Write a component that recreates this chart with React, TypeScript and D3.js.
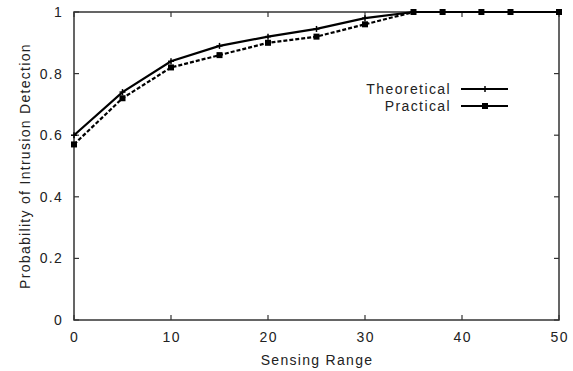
import React from "react";
import * as d3 from "d3";

const sensingRange = [0, 5, 10, 15, 20, 25, 30, 35, 38, 42, 45, 50];
const theoretical = [0.6, 0.74, 0.84, 0.89, 0.92, 0.945, 0.98, 1, 1, 1, 1, 1];
const practical = [0.57, 0.72, 0.82, 0.86, 0.9, 0.92, 0.96, 1, 1, 1, 1, 1];
const xTicks = [0, 10, 20, 30, 40, 50];
const yTicks = [0, 0.2, 0.4, 0.6, 0.8, 1];
const seriesNames = ["Theoretical", "Practical"];

const W = 573, H = 371;
const left = 74, right = 559, top = 12, bottom = 320;
const font = "'Liberation Sans', Arial, Helvetica, sans-serif";

export default function App() {
  const x = d3.scaleLinear().domain([0, 50]).range([left, right]);
  const y = d3.scaleLinear().domain([0, 1]).range([bottom, top]);
  const line = d3.line<number>().x((_, i) => x(sensingRange[i])).y((d) => y(d));
  const axisColor = "#333";
  const textStyle = { fontFamily: font, fontSize: 14, letterSpacing: 1.3, fill: "#222" } as any;

  return (
    <svg width={W} height={H} style={{ position: "absolute", left: 0, top: 0, background: "#fff" }}>
      {/* frame */}
      <rect x={left} y={top} width={right - left} height={bottom - top} fill="none" stroke={axisColor} strokeWidth={1.5} />
      {/* x ticks */}
      {xTicks.map((t) => (
        <g key={"x" + t}>
          <line x1={x(t)} x2={x(t)} y1={bottom} y2={bottom - 5} stroke={axisColor} strokeWidth={1.2} />
          <line x1={x(t)} x2={x(t)} y1={top} y2={top + 5} stroke={axisColor} strokeWidth={1.2} />
          <text x={x(t) + 0.65} y={342} textAnchor="middle" style={textStyle}>{t}</text>
        </g>
      ))}
      {/* y ticks */}
      {yTicks.map((t) => (
        <g key={"y" + t}>
          <line x1={left} x2={left + 5} y1={y(t)} y2={y(t)} stroke={axisColor} strokeWidth={1.2} />
          <line x1={right} x2={right - 5} y1={y(t)} y2={y(t)} stroke={axisColor} strokeWidth={1.2} />
          <text x={63} y={y(t) + 5} textAnchor="end" style={textStyle}>{t === 0 || t === 1 ? String(t) : t.toFixed(1)}</text>
        </g>
      ))}
      {/* axis labels */}
      <text x={317} y={365} textAnchor="middle" style={textStyle}>Sensing Range</text>
      <text transform={`translate(30,${(top + bottom) / 2}) rotate(-90)`} textAnchor="middle" style={textStyle}>
        Probability of Intrusion Detection
      </text>
      {/* practical line */}
      <path d={line(practical) || ""} fill="none" stroke="#000" strokeWidth={2.2} strokeDasharray="4,2" />
      {practical.map((v, i) => (
        <rect key={"p" + i} x={x(sensingRange[i]) - 3} y={y(v) - 3} width={6} height={6} fill="#000" />
      ))}
      {/* theoretical line */}
      <path d={line(theoretical) || ""} fill="none" stroke="#000" strokeWidth={2.2} />
      {theoretical.map((v, i) => (
        <g key={"t" + i} stroke="#000" strokeWidth={1.5}>
          <line x1={x(sensingRange[i]) - 3} x2={x(sensingRange[i]) + 3} y1={y(v)} y2={y(v)} />
          <line x1={x(sensingRange[i])} x2={x(sensingRange[i])} y1={y(v) - 3} y2={y(v) + 3} />
        </g>
      ))}
      {/* legend */}
      {seriesNames.map((name, i) => {
        const ly = 89 + i * 17;
        return (
          <g key={name}>
            <text x={451} y={ly + 5} textAnchor="end" style={{ ...textStyle, letterSpacing: 1.4 }}>{name}</text>
            <line x1={461} x2={508} y1={ly} y2={ly} stroke="#000" strokeWidth={2.2} />
            {i === 0 ? (
              <g stroke="#000" strokeWidth={1.5}>
                <line x1={482} x2={488} y1={ly} y2={ly} />
                <line x1={485} x2={485} y1={ly - 3} y2={ly + 3} />
              </g>
            ) : (
              <rect x={482} y={ly - 3} width={6} height={6} fill="#000" />
            )}
          </g>
        );
      })}
    </svg>
  );
}
